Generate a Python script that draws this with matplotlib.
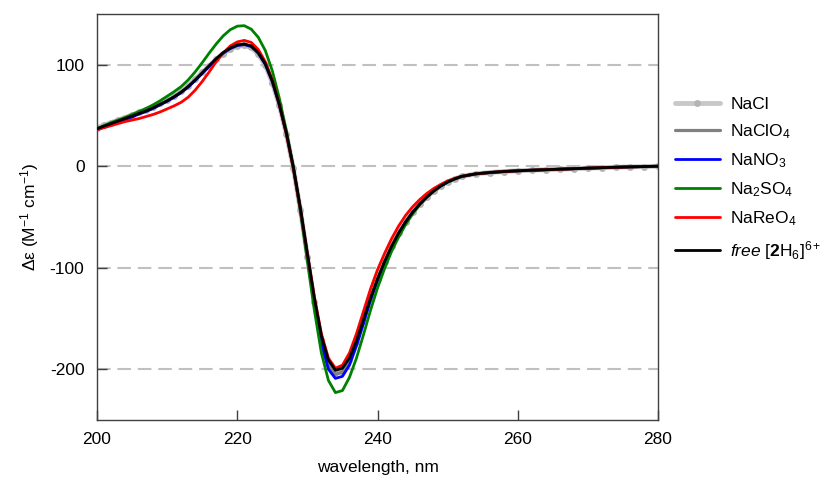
import numpy as np
import matplotlib
matplotlib.use("Agg")
import matplotlib.pyplot as plt

plt.rcParams['font.family'] = ['Liberation Sans', 'DejaVu Sans']
plt.rcParams['mathtext.fontset'] = 'custom'
plt.rcParams['mathtext.rm'] = 'Liberation Sans'
plt.rcParams['mathtext.it'] = 'Liberation Sans:italic'
plt.rcParams['mathtext.bf'] = 'Liberation Sans:bold'
plt.rcParams['axes.unicode_minus'] = False

wavelength = list(range(200, 253)) + list(range(254, 281, 2))

tail = [-7.5, -6.2, -5.2, -4.5, -3.9, -3.4, -2.9, -2.4, -1.9, -1.4, -1.0, -0.6, -0.3, 0]

free = [37, 39.5, 42, 44.5, 47, 49.5, 52, 54.5, 57.5, 61,
        64.5, 68.5, 73, 78.5, 85, 92, 99, 106, 112, 116.5,
        119.5, 120.5, 118.5, 112, 101, 84, 61, 33, -1, -41,
        -86, -130, -167, -191, -201, -199, -189, -172, -151, -130,
        -111, -94, -79, -66, -55, -45.5, -37.5, -30.5, -24.5, -19.5,
        -15.5, -12.5, -10] + tail

nacl = [38, 40.5, 43, 45.5, 48, 50.5, 53, 55.5, 58.5, 62,
        65.5, 69.5, 74, 79.5, 86, 92.5, 99, 105.5, 111, 115.5,
        118.5, 119, 117, 110.5, 99.5, 82.5, 60, 32, -2, -43,
        -89, -134, -171, -195, -204, -202, -191, -173, -152, -130,
        -111, -94, -79, -66, -55, -45.5, -37.5, -30.5, -24.5, -19.5,
        -15.5, -12.5, -10] + tail

naclo4 = [37, 39.5, 42, 44.5, 47, 49.5, 52, 54.5, 57.5, 61,
          64.5, 68.5, 73, 78.5, 85, 92, 99, 105.5, 111.5, 116,
          119, 120, 118, 111.5, 100.5, 83.5, 60.5, 32.5, -1.5, -42,
          -88, -133, -171, -196, -205, -203, -192, -174, -152, -130.5,
          -111.5, -94.5, -79, -66, -55, -45.5, -37.5, -30.5, -24.5, -19.5,
          -15.5, -12.5, -10] + tail

nano3 = [36, 38.5, 41, 43.5, 46, 48.5, 51.5, 54, 57, 60.5,
         64, 68, 72.5, 78, 84.5, 91.5, 98.5, 105.5, 111.5, 116,
         119, 120, 118, 111.5, 100.5, 83.5, 60.5, 32.5, -1.5, -43,
         -90, -136, -175, -200, -209, -207, -196, -177, -155, -132,
         -112.5, -95, -80, -66.5, -55, -45.5, -37.5, -30.5, -24.5, -19.5,
         -15.5, -12.5, -10] + tail

na2so4 = [37, 40, 43, 45.5, 48, 51, 54, 57, 60.5, 64.5,
          69, 73.5, 78.5, 85, 93, 102, 111.5, 120.5, 128.5, 134.5,
          138, 138.5, 135, 127, 114, 94, 67, 35, -1, -44,
          -93, -142, -184, -211, -223, -221, -208, -189, -166, -142,
          -120, -101, -84, -70, -57.5, -47, -38, -30.5, -24.5, -19.5,
          -15.5, -12.5, -10] + tail

nareo4 = [36, 38, 40, 42, 44, 45.5, 47, 49, 51, 53.5,
          56.5, 59.5, 63, 68, 75, 83.5, 93, 103, 111.5, 118.5,
          122.5, 124, 122, 115, 103, 85, 61, 32, -2, -42,
          -86, -129, -165, -189, -199, -196, -184, -165, -143, -121,
          -102, -86, -71.5, -59, -48.5, -40, -33, -27, -22, -18,
          -14.5, -12, -10] + tail

labels = ['NaCl', r'NaClO$_4$', r'NaNO$_3$', r'Na$_2$SO$_4$', r'NaReO$_4$',
          r'$\it{free}$ [$\mathbf{2}$H$_6$]$^{6+}$']

fig = plt.figure(figsize=(8.24, 4.88), dpi=100)
ax = fig.add_axes([97/824, 68/488, (658-97)/824, (420-14)/488])

for yv in [100, 0, -100, -200]:
    ax.axhline(yv, color='#c0c0c0', lw=1.5, dashes=(6.5, 3.3), zorder=0)

common = dict(solid_joinstyle='round', solid_capstyle='round')
h1, = ax.plot(wavelength, nacl, color='#c8c8c8', lw=3.5, marker='o', ms=5,
              markerfacecolor='#b4b4b4', markeredgewidth=0, label=labels[0],
              zorder=2, **common)
h2, = ax.plot(wavelength, naclo4, color='#808080', lw=2.3, label=labels[1], zorder=3, **common)
h3, = ax.plot(wavelength, nano3, color='#0000ff', lw=2.0, label=labels[2], zorder=4, **common)
h4, = ax.plot(wavelength, na2so4, color='#008000', lw=2.0, label=labels[3], zorder=5, **common)
h5, = ax.plot(wavelength, nareo4, color='#ff0000', lw=2.0, label=labels[4], zorder=6, **common)
h6, = ax.plot(wavelength, free, color='#000000', lw=2.0, label=labels[5], zorder=7, **common)

ax.set_xlim(200, 280)
ax.set_ylim(-250, 150)
ax.set_xticks([200, 220, 240, 260, 280])
ax.set_yticks([-200, -100, 0, 100])
ax.tick_params(direction='in', length=7, width=1, color='#404040',
               labelsize=12.5, pad=9)
for s in ax.spines.values():
    s.set_color('#404040')
    s.set_linewidth(1)

ax.set_xlabel('wavelength, nm', fontsize=12.5, labelpad=9)
ax.set_ylabel('Δε (M$^{-1}$ cm$^{-1}$)', fontsize=12.5, labelpad=6)

leg = fig.legend(handles=[h1, h2, h3, h4, h5, h6], loc='upper left',
                 bbox_to_anchor=(659/824, 1 - 81/488), frameon=False,
                 fontsize=12.5, handlelength=2.6, labelspacing=0.6,
                 handletextpad=0.6)

fig.savefig('out.png', dpi=100)
